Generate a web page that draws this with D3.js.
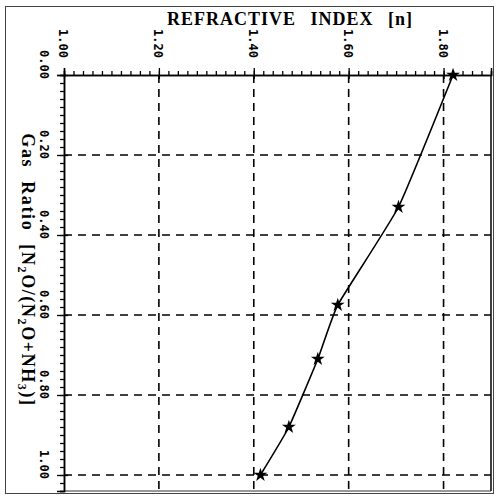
<!DOCTYPE html>
<html>
<head>
<meta charset="utf-8">
<script src="https://cdn.jsdelivr.net/npm/d3@7"></script>
<style>
  body { margin: 0; background: #fff; }
  svg { display: block; }
</style>
</head>
<body>
<svg id="chart"></svg>
<script>
// refractive index vs gas ratio
const refIndex = [1.82, 1.705, 1.577, 1.535, 1.474, 1.414];
const gasRatio = [0.00, 0.33, 0.575, 0.71, 0.88, 1.00];
const xTicks = [1.0, 1.2, 1.4, 1.6, 1.8];
const yTicks = [0.0, 0.2, 0.4, 0.6, 0.8, 1.0];

const W = 498, H = 496;
const svg = d3.select("#chart").attr("width", W).attr("height", H);

const x = d3.scaleLinear().domain([1.0, 1.9]).range([64, 491]);
const y = d3.scaleLinear().domain([0, 1.04]).range([75, 491]);

const fmt = d3.format(".2f");
const monoFont = "'DejaVu Sans Mono', monospace";
const serifFont = "'Liberation Serif', 'Times New Roman', serif";

// outer frame
svg.append("rect")
  .attr("x", 5.5).attr("y", 6.5)
  .attr("width", 488).attr("height", 487)
  .attr("fill", "none").attr("stroke", "#444").attr("stroke-width", 1);

// grid
svg.append("g")
  .selectAll("line")
  .data(xTicks.slice(1))
  .join("line")
  .attr("x1", d => x(d)).attr("x2", d => x(d))
  .attr("y1", y(0)).attr("y2", y.range()[1])
  .attr("stroke", "#000").attr("stroke-width", 1.6)
  .attr("stroke-dasharray", "8,6");

svg.append("g")
  .selectAll("line")
  .data(yTicks.slice(1))
  .join("line")
  .attr("x1", x(1.0)).attr("x2", x.range()[1])
  .attr("y1", d => y(d)).attr("y2", d => y(d))
  .attr("stroke", "#000").attr("stroke-width", 1.6)
  .attr("stroke-dasharray", "8,6");

// frame of plot
svg.append("line")
  .attr("x1", x.range()[1]).attr("x2", x.range()[1])
  .attr("y1", y(0)).attr("y2", y.range()[1])
  .attr("stroke", "#000").attr("stroke-width", 1.5);
svg.append("line")
  .attr("x1", x(1.0)).attr("x2", x.range()[1])
  .attr("y1", y.range()[1]).attr("y2", y.range()[1])
  .attr("stroke", "#333").attr("stroke-width", 1);

// axes, minor ticks every 0.02
const minorX = d3.range(1.0, 1.9001, 0.02);
const minorY = d3.range(0, 1.0401, 0.02);

const xMinor = svg.append("g")
  .attr("transform", `translate(0,${y(0)})`)
  .call(d3.axisTop(x).tickValues(minorX).tickSize(4).tickFormat(""));
const xMajor = svg.append("g")
  .attr("transform", `translate(0,${y(0)})`)
  .call(d3.axisTop(x).tickValues(xTicks).tickSize(7).tickFormat(""));

const yMinor = svg.append("g")
  .attr("transform", `translate(${x(1.0)},0)`)
  .call(d3.axisLeft(y).tickValues(minorY).tickSize(4).tickFormat(""));
const yMajor = svg.append("g")
  .attr("transform", `translate(${x(1.0)},0)`)
  .call(d3.axisLeft(y).tickValues(yTicks).tickSize(7).tickFormat(""));

[xMinor, xMajor, yMinor, yMajor].forEach(g => {
  g.select(".domain").attr("stroke", "#000").attr("stroke-width", 1.5);
  g.selectAll(".tick line").attr("stroke", "#000").attr("stroke-width", 1.3);
});
// major ticks cross the axis slightly
xMajor.selectAll(".tick line").attr("y2", -7).attr("y1", 4);
yMajor.selectAll(".tick line").attr("x2", -7).attr("x1", 4);

// tick labels (rotated)
svg.append("g")
  .selectAll("text")
  .data(xTicks)
  .join("text")
  .attr("transform", d => `translate(${x(d) - 5},29) rotate(90)`)
  .attr("font-family", monoFont)
  .attr("font-weight", "bold")
  .attr("font-size", 12)
  .attr("fill", "#000")
  .text(d => fmt(d));

svg.append("g")
  .selectAll("text")
  .data(yTicks)
  .join("text")
  .attr("transform", d => `translate(40,${y(d) + 4}) rotate(90)`)
  .attr("text-anchor", "end")
  .attr("font-family", monoFont)
  .attr("font-weight", "bold")
  .attr("font-size", 12)
  .attr("fill", "#000")
  .text(d => fmt(d));

// axis titles
svg.append("text")
  .attr("x", 290).attr("y", 25)
  .attr("text-anchor", "middle")
  .attr("font-family", serifFont)
  .attr("font-weight", "bold")
  .attr("font-size", 18)
  .attr("letter-spacing", 1)
  .attr("word-spacing", 9)
  .text("REFRACTIVE INDEX [n]");

const yt = svg.append("text")
  .attr("transform", "translate(22,270) rotate(90)")
  .attr("text-anchor", "middle")
  .attr("font-family", serifFont)
  .attr("font-weight", "bold")
  .attr("font-size", 18)
  .attr("letter-spacing", 1.6)
  .attr("word-spacing", 7);
yt.append("tspan").text("Gas Ratio [N");
yt.append("tspan").attr("font-size", 12).attr("dy", 4).text("2");
yt.append("tspan").attr("dy", -4).text("O/(N");
yt.append("tspan").attr("font-size", 12).attr("dy", 4).text("2");
yt.append("tspan").attr("dy", -4).text("O+NH");
yt.append("tspan").attr("font-size", 12).attr("dy", 4).text("3");
yt.append("tspan").attr("dy", -4).text(")]");

// curve
const pts = refIndex.map((n, i) => [n, gasRatio[i]]);
const line = d3.line()
  .x(d => x(d[0]))
  .y(d => y(d[1]))
  .curve(d3.curveCardinal.tension(0.6));

svg.append("path")
  .datum(pts)
  .attr("d", line)
  .attr("fill", "none")
  .attr("stroke", "#000")
  .attr("stroke-width", 1.6);

svg.append("g")
  .selectAll("path")
  .data(pts)
  .join("path")
  .attr("transform", d => `translate(${x(d[0])},${y(d[1])})`)
  .attr("d", d3.symbol(d3.symbolStar, 60))
  .attr("fill", "#000");
</script>
</body>
</html>
